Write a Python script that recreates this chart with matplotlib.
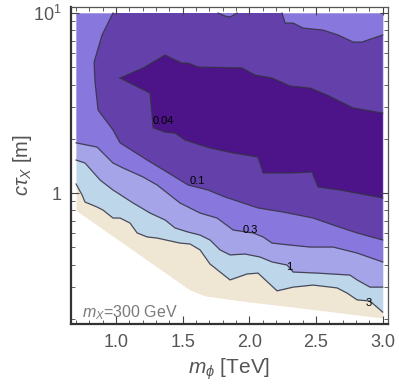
import numpy as np
import matplotlib
matplotlib.use("Agg")
import matplotlib.pyplot as plt
from matplotlib.ticker import FixedLocator, NullFormatter, FixedFormatter, MultipleLocator

plt.rcParams['font.family'] = ['Liberation Sans', 'DejaVu Sans']
plt.rcParams['mathtext.fontset'] = 'custom'
plt.rcParams['mathtext.rm'] = 'Liberation Sans'
plt.rcParams['mathtext.it'] = 'Liberation Sans:italic'

# ---- data: contour lines (x in TeV, y in m) ----
# lower edge of the computed domain
dom_x = [0.70, 1.555, 1.668, 2.005, 2.38, 3.0]
dom_y = [0.80, 0.289, 0.268, 0.248, 0.230, 0.202]

# contour level 3
c3_x = [0.70, 0.745, 0.767, 0.857, 0.902, 0.977, 1.03, 1.105, 1.158, 1.233, 1.308, 1.48, 1.555,
        1.63, 1.705, 1.855, 1.983, 2.065, 2.208, 2.328, 2.478, 2.658, 2.733, 2.808, 2.905, 3.0]
c3_y = [1.122, 0.975, 0.891, 0.836, 0.804, 0.726, 0.726, 0.681, 0.600, 0.570, 0.562, 0.527, 0.521,
        0.483, 0.403, 0.329, 0.355, 0.359, 0.286, 0.300, 0.308, 0.297, 0.278, 0.255, 0.251, 0.218]

# contour level 1
c1_x = [0.70, 0.767, 0.88, 0.977, 1.128, 1.255, 1.368, 1.443, 1.54, 1.63, 1.705, 1.78, 1.855,
        1.968, 2.08, 2.17, 2.283, 2.328, 2.508, 2.755, 2.808, 2.905, 3.0]
c1_y = [1.525, 1.468, 1.181, 1.039, 0.880, 0.774, 0.708, 0.639, 0.607, 0.584, 0.548, 0.483, 0.453,
        0.458, 0.441, 0.414, 0.398, 0.364, 0.359, 0.350, 0.329, 0.300, 0.300]

# contour level 0.3
c03_x = [0.70, 0.857, 0.977, 1.053, 1.203, 1.308, 1.48, 1.63, 1.758, 1.878, 2.028, 2.103, 2.17,
         2.305, 2.455, 2.628, 2.808, 3.0]
c03_y = [1.90, 1.80, 1.468, 1.377, 1.227, 1.108, 0.880, 0.774, 0.726, 0.623, 0.600, 0.570, 0.527,
         0.514, 0.501, 0.501, 0.464, 0.414]

# contour level 0.1 (main branch, from the top edge down to the right edge)
c01_x = [0.977, 0.895, 0.835, 0.842, 0.865, 0.977, 1.03, 1.233, 1.443, 1.54, 1.69, 1.818, 1.953,
         2.065, 2.253, 2.478, 2.628, 2.808, 3.0]
c01_y = [10.0, 7.55, 5.34, 4.14, 2.89, 2.24, 1.90, 1.525, 1.227, 1.108, 1.039, 0.950, 0.880,
         0.826, 0.784, 0.726, 0.664, 0.600, 0.548]
# contour level 0.1 (upper right branch)
c01u_x = [2.245, 2.268, 2.328, 2.403, 2.553, 2.665, 2.778, 2.845, 3.0]
c01u_y = [10.0, 8.8, 8.8, 8.25, 8.04, 7.55, 6.90, 6.90, 7.55]
# contour level 0.1 (small bump at the top edge)
c01b_x = [1.765, 1.818, 1.855, 1.908]
c01b_y = [10.0, 9.62, 9.50, 10.0]

# contour level 0.04 (closed island touching the right edge)
c004u_x = [1.03, 1.203, 1.368, 1.443, 1.495, 1.54, 1.615, 1.945, 2.043, 2.17, 2.305, 2.455, 2.583, 2.778, 3.0]
c004u_y = [4.35, 4.95, 5.84, 5.48, 5.27, 5.27, 5.01, 4.95, 4.52, 4.35, 3.93, 3.83, 3.50, 2.97, 2.78]
c004l_x = [1.03, 1.255, 1.27, 1.278, 1.368, 1.443, 1.518, 1.63, 1.705, 1.878, 2.065, 2.103, 2.305,
           2.47, 2.515, 2.68, 2.883, 3.0]
c004l_y = [4.35, 3.59, 2.71, 2.30, 2.18, 2.15, 1.97, 1.85, 1.78, 1.67, 1.585, 1.292, 1.292,
           1.308, 1.08, 1.039, 0.975, 0.938]

labels_txt = ["0.04", "0.1", "0.3", "1", "3"]
labels_x = [1.353, 1.608, 2.005, 2.298, 2.898]
labels_y = [2.51, 1.166, 0.623, 0.388, 0.245]

x_min, x_max = 0.70, 3.0
y_top = 10.0

# colours
col_beige = '#f0e6d4'
col_blue = '#bed6ea'
col_lav = '#a6a4e8'
col_lpur = '#8877dc'
col_mpur = '#6440ab'
col_dpur = '#4c1488'
line_col = (0.2, 0.2, 0.25, 0.85)

fig = plt.figure(figsize=(3.99, 3.91), dpi=100)
ax = fig.add_axes([71/399, 1 - 324/391, (388-71)/399, (324-7)/391])
ax.set_yscale('log')

ax.fill_between(dom_x, dom_y, y_top, color=col_beige, lw=0)
ax.fill_between(c3_x, c3_y, y_top, color=col_blue, lw=0)
ax.fill_between(c1_x, c1_y, y_top, color=col_lav, lw=0)
ax.fill_between(c03_x, c03_y, y_top, color=col_lpur, lw=0)

# medium region bounded by the 0.1 contours
mx = np.concatenate([c01_x, [x_max], c01u_x[::-1], [c01_x[0]]])
my = np.concatenate([c01_y, [c01u_y[-1]], c01u_y[::-1], [y_top]])
ax.fill(mx, my, color=col_mpur, lw=0)
ax.fill(c01b_x, c01b_y, color=col_lpur, lw=0)

# darkest island
dx = np.concatenate([c004u_x, c004l_x[::-1]])
dy = np.concatenate([c004u_y, c004l_y[::-1]])
ax.fill(dx, dy, color=col_dpur, lw=0)

for xs, ys in [(c3_x, c3_y), (c1_x, c1_y), (c03_x, c03_y), (c01_x, c01_y), (c01u_x, c01u_y),
               (c01b_x, c01b_y), (c004u_x, c004u_y), (c004l_x, c004l_y)]:
    ax.plot(xs, ys, color=line_col, lw=0.9)

for t, lx, ly in zip(labels_txt, labels_x, labels_y):
    ax.text(lx, ly, t, fontsize=8, color='black', ha='center', va='center')

ax.text(0.742, 0.216, r'$m_X$=300 GeV', fontsize=11.5, color='#7a7a7a', ha='left', va='center')

ax.set_xlim(0.662, 3.040)
ax.set_ylim(0.1872, 10.80)

ax.xaxis.set_major_locator(FixedLocator([1.0, 1.5, 2.0, 2.5, 3.0]))
ax.xaxis.set_major_formatter(FixedFormatter(['1.0', '1.5', '2.0', '2.5', '3.0']))
ax.xaxis.set_minor_locator(MultipleLocator(0.1))
ax.yaxis.set_major_locator(FixedLocator([1, 10]))
ax.yaxis.set_major_formatter(FixedFormatter(['1', r'$10^1$']))
ax.yaxis.set_minor_locator(FixedLocator([0.2, 0.3, 0.4, 0.5, 0.6, 0.7, 0.8, 0.9, 2, 3, 4, 5, 6, 7, 8, 9]))
ax.yaxis.set_minor_formatter(NullFormatter())

ax.tick_params(which='both', direction='in', top=True, right=True, color='#444444',
               labelcolor='#555555', labelsize=13)
ax.tick_params(which='major', length=6, width=0.8, pad=7)
ax.tick_params(which='minor', length=3, width=0.6)

for s in ['left', 'bottom']:
    ax.spines[s].set_linewidth(1.6)
    ax.spines[s].set_color('#333333')
for s in ['top', 'right']:
    ax.spines[s].set_linewidth(0.9)
    ax.spines[s].set_color('#555555')

ax.set_xlabel(r'$m_\phi$ [TeV]', fontsize=15, color='#555555', labelpad=4)
ax.set_ylabel(r'$c\tau_X$ [m]', fontsize=14.5, color='#555555', labelpad=-1)

fig.savefig('out.png', dpi=100)
